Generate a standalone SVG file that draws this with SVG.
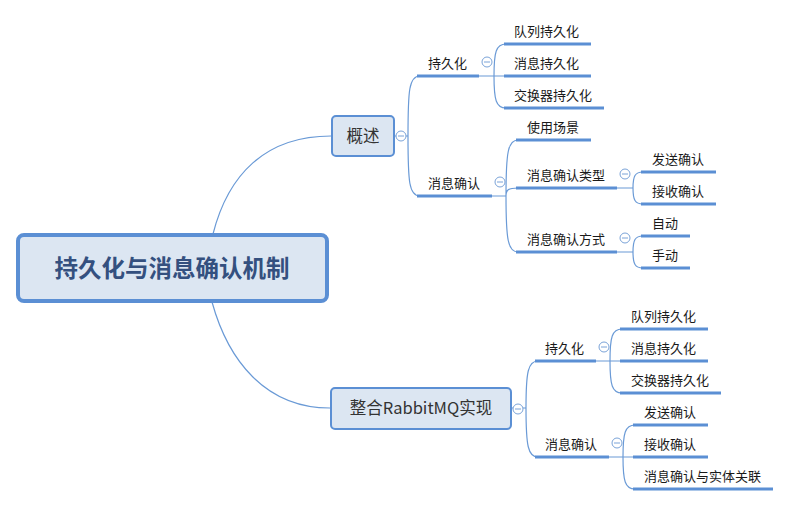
<svg xmlns="http://www.w3.org/2000/svg" width="791" height="506" viewBox="0 0 791 506">
<style>
.c{fill:none;stroke:#6a9ad6;stroke-width:1.2}
.u{stroke:#5b8fd4;stroke-width:3;stroke-linecap:butt}
.t{font-family:"Noto Sans CJK SC","Microsoft YaHei",sans-serif;font-size:13px;fill:#1a1a1a}
.n{fill:#dce6f2;stroke:#5b8fd4;stroke-width:2}
.nt{font-family:"Noto Sans CJK SC","Microsoft YaHei",sans-serif;font-size:16.5px;fill:#333;text-anchor:middle}
.tg{fill:#fff;stroke:#7aa3d8;stroke-width:1}
.tm{stroke:#7aa3d8;stroke-width:1}
</style>
<defs>
<g id="tog"><circle class="tg" cx="0" cy="0" r="5"/><line class="tm" x1="-3" y1="0" x2="3" y2="0"/></g>
</defs>
<rect width="791" height="506" fill="#fff"/>
<g id="connectors">
<path class="c" d="M213 234 C228 175 265 136 331 136"/>
<path class="c" d="M212 302 C228 360 265 408 330 408"/>
<path class="c" d="M394 136 L408 136 M408 136 C408 90 409 76 420 76 M408 136 C408 182 409 196 420 196"/>
<path class="c" d="M479 76 L494 76 M494 76 C494 52 496 44 506 44 M494 76 L506 76 M494 76 C494 100 496 108 506 108"/>
<path class="c" d="M492 196 L506 196 M506 196 C506 152 508 140 518 140 M506 196 C506 190 508 188 518 188 M506 196 C506 240 508 252 518 252"/>
<path class="c" d="M617 188 L633 188 M633 188 C633 176 635 172 643 172 M633 188 C633 200 635 204 643 204"/>
<path class="c" d="M617 252 L633 252 M633 252 C633 240 635 236 643 236 M633 252 C633 264 635 268 643 268"/>
<path class="c" d="M511 408 L526 408 M526 408 C526 372 528 361 538 361 M526 408 C526 446 528 457 538 457"/>
<path class="c" d="M596 361 L610 361 M610 361 C610 337 612 329 622 329 M610 361 L622 361 M610 361 C610 385 612 393 622 393"/>
<path class="c" d="M609 457 L623 457 M623 457 C623 433 625 425 635 425 M623 457 L635 457 M623 457 C623 481 625 489 635 489"/>
</g>
<g id="root">
<rect x="18" y="235" width="309" height="66" rx="6" fill="#dce6f2" stroke="#5b8fd4" stroke-width="4"/>
<text x="172" y="277" text-anchor="middle" font-family="'Noto Sans CJK SC','Microsoft YaHei',sans-serif" font-size="23.5" font-weight="bold" fill="#34507f">持久化与消息确认机制</text>
</g>
<g id="n-overview">
<rect class="n" x="332" y="116" width="62" height="40" rx="4"/>
<text class="nt" x="363" y="142">概述</text>
<use href="#tog" x="401" y="136"/>
</g>
<g id="n-integrate">
<rect class="n" x="331" y="388" width="180" height="41" rx="4"/>
<text class="nt" x="421" y="414">整合RabbitMQ实现</text>
<use href="#tog" x="518" y="409"/>
</g>
<g id="n-p1"><line class="u" x1="417" y1="76" x2="479" y2="76"/><text class="t" x="428" y="68">持久化</text><use href="#tog" x="487" y="62"/></g>
<g id="n-p1a"><line class="u" x1="504" y1="44" x2="591" y2="44"/><text class="t" x="514" y="36">队列持久化</text></g>
<g id="n-p1b"><line class="u" x1="504" y1="76" x2="591" y2="76"/><text class="t" x="514" y="68">消息持久化</text></g>
<g id="n-p1c"><line class="u" x1="504" y1="108" x2="604" y2="108"/><text class="t" x="514" y="100">交换器持久化</text></g>
<g id="n-a1"><line class="u" x1="417" y1="196" x2="492" y2="196"/><text class="t" x="428" y="188">消息确认</text><use href="#tog" x="500" y="182"/></g>
<g id="n-a1a"><line class="u" x1="516" y1="140" x2="591" y2="140"/><text class="t" x="527" y="132">使用场景</text></g>
<g id="n-a1b"><line class="u" x1="516" y1="188" x2="617" y2="188"/><text class="t" x="527" y="180">消息确认类型</text><use href="#tog" x="625" y="174"/></g>
<g id="n-a1b1"><line class="u" x1="641" y1="172" x2="716" y2="172"/><text class="t" x="652" y="164">发送确认</text></g>
<g id="n-a1b2"><line class="u" x1="641" y1="204" x2="716" y2="204"/><text class="t" x="652" y="196">接收确认</text></g>
<g id="n-a1c"><line class="u" x1="516" y1="252" x2="617" y2="252"/><text class="t" x="527" y="244">消息确认方式</text><use href="#tog" x="625" y="238"/></g>
<g id="n-a1c1"><line class="u" x1="641" y1="236" x2="690" y2="236"/><text class="t" x="652" y="228">自动</text></g>
<g id="n-a1c2"><line class="u" x1="641" y1="268" x2="690" y2="268"/><text class="t" x="652" y="260">手动</text></g>
<g id="n-p2"><line class="u" x1="535" y1="361" x2="596" y2="361"/><text class="t" x="545" y="353">持久化</text><use href="#tog" x="604" y="347"/></g>
<g id="n-p2a"><line class="u" x1="620" y1="329" x2="708" y2="329"/><text class="t" x="631" y="321">队列持久化</text></g>
<g id="n-p2b"><line class="u" x1="620" y1="361" x2="708" y2="361"/><text class="t" x="631" y="353">消息持久化</text></g>
<g id="n-p2c"><line class="u" x1="620" y1="393" x2="721" y2="393"/><text class="t" x="631" y="385">交换器持久化</text></g>
<g id="n-a2"><line class="u" x1="535" y1="457" x2="609" y2="457"/><text class="t" x="545" y="449">消息确认</text><use href="#tog" x="617" y="443"/></g>
<g id="n-a2a"><line class="u" x1="633" y1="425" x2="708" y2="425"/><text class="t" x="644" y="417">发送确认</text></g>
<g id="n-a2b"><line class="u" x1="633" y1="457" x2="708" y2="457"/><text class="t" x="644" y="449">接收确认</text></g>
<g id="n-a2c"><line class="u" x1="633" y1="489" x2="773" y2="489"/><text class="t" x="644" y="481">消息确认与实体关联</text></g>
</svg>
